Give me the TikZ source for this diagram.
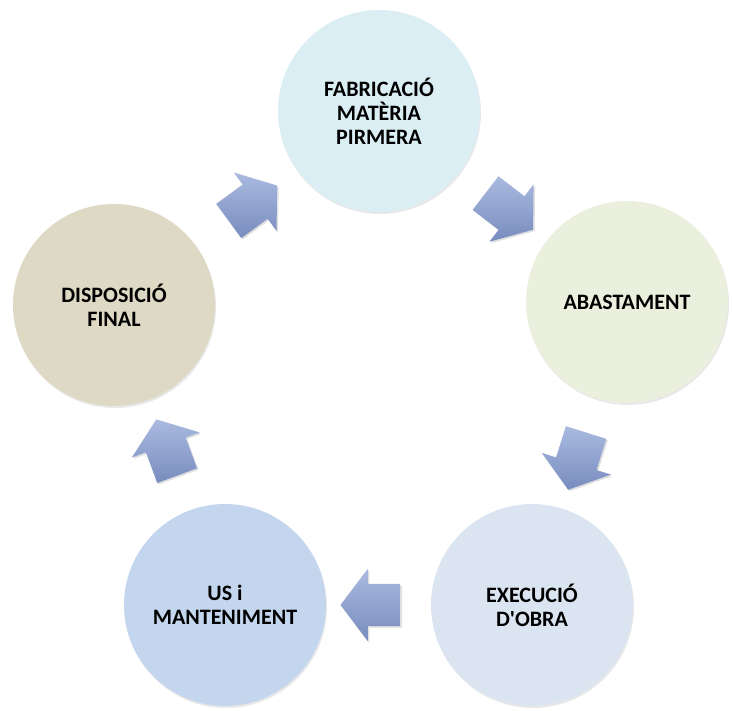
\documentclass[tikz,border=0pt]{standalone}
\usepackage{fontspec}
\setmainfont{Carlito}
\usetikzlibrary{shapes.arrows,shadows,positioning}
\definecolor{fabfill}{RGB}{218,238,243}
\definecolor{abafill}{RGB}{235,240,222}
\definecolor{exefill}{RGB}{219,229,241}
\definecolor{usfill}{RGB}{196,214,238}
\definecolor{disfill}{RGB}{221,217,196}
\definecolor{arrowtop}{RGB}{170,186,224}
\definecolor{arrowbot}{RGB}{120,140,190}
\tikzset{
  stage/.style={circle,minimum size=202pt,inner sep=0pt,align=center,
                font=\fontsize{22}{24}\selectfont\bfseries,
                drop shadow={opacity=0.18,shadow xshift=1pt,shadow yshift=-2pt}},
  fabstage/.style={stage,fill=fabfill},
  abastage/.style={stage,fill=abafill},
  exestage/.style={stage,fill=exefill},
  usstage/.style={stage,fill=usfill},
  disstage/.style={stage,fill=disfill},
  cyclearrow/.style={single arrow,sloped,allow upside down,
                     inner xsep=0pt,inner ysep=21pt,minimum height=60pt,
                     single arrow head extend=15pt,single arrow tip angle=106,
                     top color=arrowtop,bottom color=arrowbot,
                     drop shadow={opacity=0.25,shadow xshift=1.5pt,shadow yshift=-1.5pt}}
}

\begin{document}
\begin{tikzpicture}[x=1pt,y=-1pt]
  \useasboundingbox (0,0) rectangle (732,711);

  % stages of the cycle
  \node[fabstage] (fab) at (379,111) {FABRICACIÓ\\MATÈRIA\\PIRMERA};
  \node[abastage] (aba) at (627,302) {ABASTAMENT};
  \node[exestage] (exe) at (532,605) {EXECUCIÓ\\D\textquotesingle OBRA};
  \node[usstage]  (us)  at (225,605) {US i\\MANTENIMENT};
  \node[disstage] (dis) at (114,305) {DISPOSICIÓ\\FINAL};

  % block arrows between stages
  \path (fab) -- node[cyclearrow] (fababa) {} (aba);
  \path (aba) -- node[cyclearrow] (abaexe) {} (exe);
  \path (exe) -- node[cyclearrow] (exeus) {} (us);
  \path (us)  -- node[cyclearrow] (usdis) {} (dis);
  \path (dis) -- node[cyclearrow] (disfab) {} (fab);
\end{tikzpicture}
\end{document}
